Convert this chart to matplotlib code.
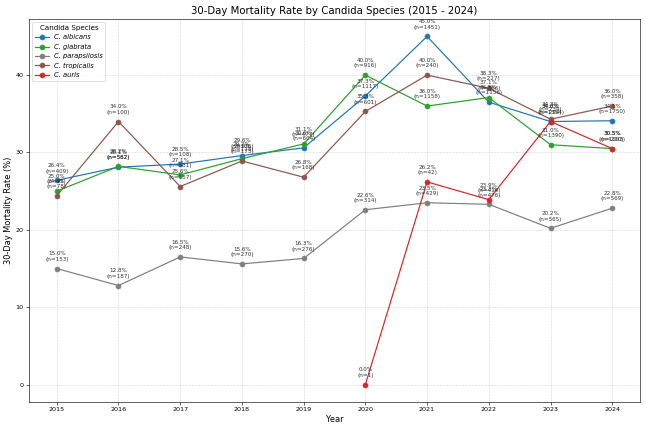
import matplotlib
matplotlib.use("Agg")
import matplotlib.pyplot as plt

years = [2015, 2016, 2017, 2018, 2019, 2020, 2021, 2022, 2023, 2024]
auris_years = [2020, 2021, 2022, 2023, 2024]

species = ["C. albicans", "C. glabrata", "C. parapsilosis", "C. tropicalis", "C. auris"]
colors = ["#1f77b4", "#2ca02c", "#7f7f7f", "#8c564b", "#d62728"]

albicans_rate = [26.4, 28.1, 28.5, 29.6, 30.6, 37.3, 45.0, 36.5, 34.0, 34.1]
albicans_n = [409, 582, 108, 176, 604, 1117, 1451, 1156, 1354, 1750]

glabrata_rate = [25.0, 28.2, 27.1, 29.2, 31.1, 40.0, 36.0, 37.1, 31.0, 30.5]
glabrata_n = [95, 562, 531, 178, 477, 916, 1158, 366, 1390, 1003]

parapsilosis_rate = [15.0, 12.8, 16.5, 15.6, 16.3, 22.6, 23.5, 23.3, 20.2, 22.8]
parapsilosis_n = [153, 187, 248, 270, 276, 314, 429, 476, 565, 569]

tropicalis_rate = [24.4, 34.0, 25.6, 28.9, 26.8, 35.3, 40.0, 38.3, 34.3, 36.0]
tropicalis_n = [78, 100, 157, 173, 168, 601, 240, 227, 234, 358]

auris_rate = [0.0, 26.2, 23.9, 34.0, 30.5]
auris_n = [1, 42, 419, 294, 200]

series = [
    (years, albicans_rate, albicans_n),
    (years, glabrata_rate, glabrata_n),
    (years, parapsilosis_rate, parapsilosis_n),
    (years, tropicalis_rate, tropicalis_n),
    (auris_years, auris_rate, auris_n),
]

DPI = 54
fig = plt.figure(figsize=(646 / DPI, 427 / DPI), dpi=DPI)
ax = fig.add_axes([29 / 646, 1 - 402 / 427, (640 - 29) / 646, (402 - 19) / 427])

for name, color, (xs, ys, ns) in zip(species, colors, series):
    ax.plot(xs, ys, marker="o", color=color, label=name, linewidth=1.6, markersize=6.5)
    for x, y, n in zip(xs, ys, ns):
        ax.annotate(f"{y:.1f}%\n(n={n})", (x, y), xytext=(0, 9),
                    textcoords="offset points", ha="center", va="bottom",
                    fontsize=7.5, color="#333333", linespacing=1.1)

ax.set_title("30-Day Mortality Rate by Candida Species (2015 - 2024)", fontsize=13.5)
ax.set_xlabel("Year", fontsize=11)
ax.set_ylabel("30-Day Mortality Rate (%)", fontsize=11)
ax.set_xticks(years)
ax.tick_params(labelsize=8.5)
ax.grid(True, linestyle="--", alpha=0.5)
leg = ax.legend(title="Candida Species", loc="upper left", fontsize=9, title_fontsize=9.5)
for t in leg.get_texts():
    t.set_fontstyle("italic")

fig.savefig("out.png", dpi=DPI)
